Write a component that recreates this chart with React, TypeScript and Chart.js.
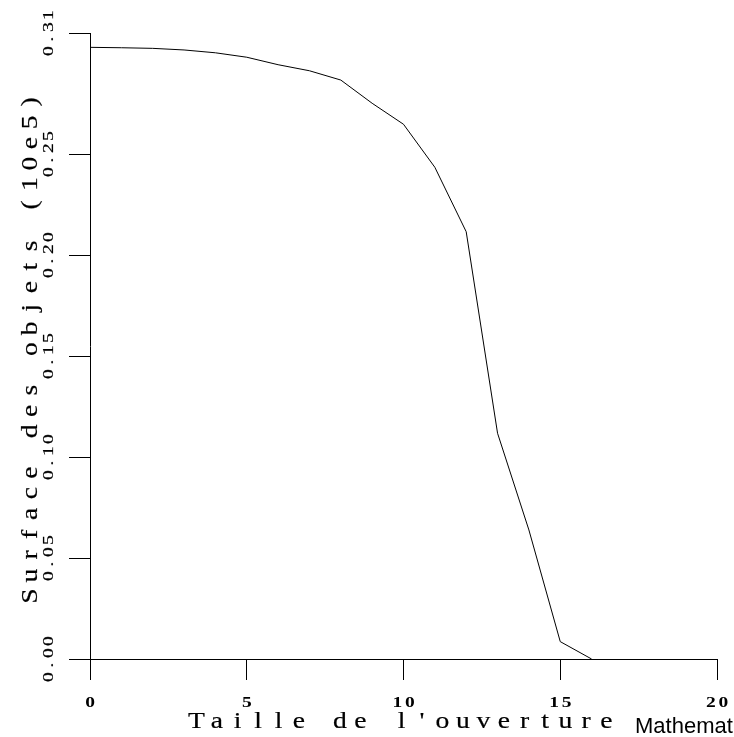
import React, { useEffect, useRef } from "react";
import { Chart, registerables } from "chart.js";

Chart.register(...registerables);

const apertureSizes = [0, 1, 2, 3, 4, 5, 6, 7, 8, 9, 10, 11, 12, 13, 14, 15, 16];
const objectSurface = [
  0.3029, 0.3027, 0.3024, 0.3016, 0.3002, 0.298, 0.2943, 0.2913, 0.2867,
  0.2752, 0.2648, 0.2435, 0.2116, 0.1118, 0.0639, 0.0086, 0,
];
const xTickValues = [0, 5, 10, 15, 20];
const yTickValues = [0, 0.05, 0.1, 0.15, 0.2, 0.25, 0.31];
const yTickLabels = ["0.00", "0.05", "0.10", "0.15", "0.20", "0.25", "0.31"];
const xTitle = "Taille de l'ouverture";
const yTitle = "Surface des objets (10e5)";
const footer = "Mathematica";

const SERIF = "'Liberation Serif', serif";

// draw text with a fixed character pitch (typewriter style), centred at cx,
// each glyph widened by sx and lightly stroked to imitate a Courier-like face
function monoText(
  ctx: CanvasRenderingContext2D,
  text: string,
  cx: number,
  baseline: number,
  pitch: number,
  sx: number,
  stroke: number
) {
  const n = text.length;
  ctx.textAlign = "center";
  ctx.textBaseline = "alphabetic";
  ctx.strokeStyle = "#000";
  ctx.lineWidth = stroke;
  for (let i = 0; i < n; i++) {
    const ch = text[i];
    if (ch === " ") continue;
    ctx.save();
    ctx.translate(cx + (i - (n - 1) / 2) * pitch, baseline);
    ctx.scale(sx, 1);
    ctx.fillText(ch, 0, 0);
    if (stroke > 0) ctx.strokeText(ch, 0, 0);
    ctx.restore();
  }
}

const labelsPlugin = {
  id: "mmaLabels",
  afterDraw(chart: any) {
    const ctx: CanvasRenderingContext2D = chart.ctx;
    const xs = chart.scales.x;
    const ys = chart.scales.y;
    const area = chart.chartArea;
    ctx.save();
    ctx.fillStyle = "#000";

    // x tick labels
    ctx.font = "bold 15px " + SERIF;
    xTickValues.forEach((v) => {
      monoText(ctx, String(v), xs.getPixelForValue(v), 707, 12.5, 1.3, 0);
    });

    // y tick labels (rotated)
    ctx.font = "15px " + SERIF;
    yTickValues.forEach((v, i) => {
      const py = ys.getPixelForValue(v);
      ctx.save();
      ctx.translate(53, py);
      ctx.rotate(-Math.PI / 2);
      monoText(ctx, yTickLabels[i], 0, 0, 12, 1.3, 0.2);
      ctx.restore();
    });

    // axis titles
    ctx.font = "23px " + SERIF;
    monoText(ctx, xTitle, (area.left + area.right) / 2 - 2, 728, 20.5, 1.2, 0.2);
    ctx.save();
    ctx.translate(37, (area.top + area.bottom) / 2 + 3);
    ctx.rotate(-Math.PI / 2);
    monoText(ctx, yTitle, 0, 0, 20.6, 1.2, 0.2);
    ctx.restore();

    // footer
    ctx.font = "22px 'Liberation Sans', Arial, sans-serif";
    ctx.textAlign = "left";
    ctx.textBaseline = "alphabetic";
    ctx.fillText(footer, 635, 733);
    ctx.restore();
  },
};

export default function App() {
  const ref = useRef<HTMLCanvasElement | null>(null);

  useEffect(() => {
    const canvas = ref.current;
    if (!canvas) return;
    const chart = new Chart(canvas, {
      type: "line",
      data: {
        datasets: [
          {
            data: apertureSizes.map((x, i) => ({ x, y: objectSurface[i] })),
            borderColor: "#000",
            borderWidth: 1,
            pointRadius: 0,
            tension: 0,
            fill: false,
          },
        ],
      },
      options: {
        animation: false,
        responsive: false,
        devicePixelRatio: 1,
        layout: { padding: { top: 33, right: 17, left: 0, bottom: 0 } },
        plugins: {
          legend: { display: false },
          tooltip: { enabled: false },
          title: { display: false },
        },
        scales: {
          x: {
            type: "linear",
            min: 0,
            max: 20,
            afterBuildTicks: (scale: any) => {
              scale.ticks = xTickValues.map((v) => ({ value: v }));
            },
            afterFit: (scale: any) => {
              scale.height = 78;
            },
            ticks: { display: false },
            grid: {
              drawOnChartArea: false,
              drawTicks: true,
              tickLength: 21,
              color: "#000",
              lineWidth: 1,
            },
            border: { display: true, color: "#000", width: 1 },
          },
          y: {
            type: "linear",
            min: 0,
            max: 0.31,
            afterBuildTicks: (scale: any) => {
              scale.ticks = yTickValues.map((v) => ({ value: v }));
            },
            afterFit: (scale: any) => {
              scale.width = 90;
            },
            ticks: { display: false },
            grid: {
              drawOnChartArea: false,
              drawTicks: true,
              tickLength: 21,
              color: "#000",
              lineWidth: 1,
            },
            border: { display: true, color: "#000", width: 1 },
          },
        },
      },
      plugins: [labelsPlugin],
    });
    return () => chart.destroy();
  }, []);

  return (
    <div style={{ position: "fixed", left: 0, top: 0, width: 734, height: 737, background: "#fff" }}>
      <canvas ref={ref} width={734} height={737} style={{ display: "block" }} />
    </div>
  );
}
